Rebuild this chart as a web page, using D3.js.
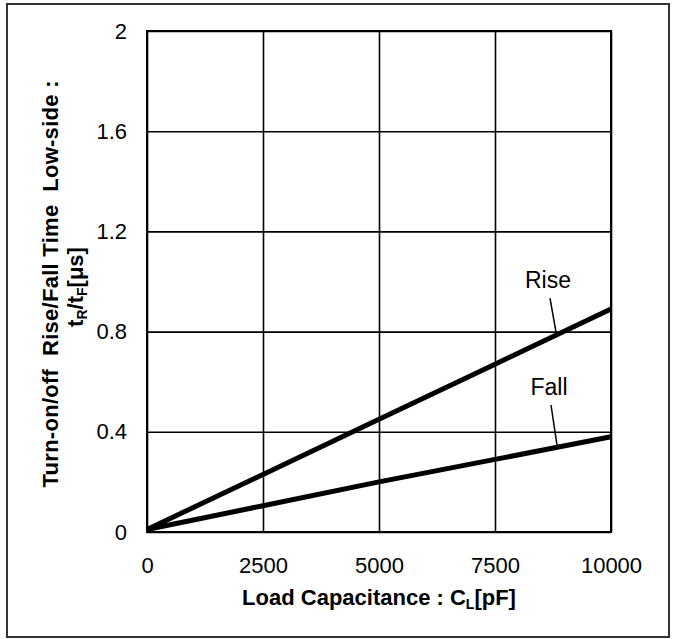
<!DOCTYPE html>
<html>
<head>
<meta charset="utf-8">
<script src="https://cdn.jsdelivr.net/npm/d3@7"></script>
<style>
  body { margin: 0; background: #fff; }
  svg { display: block; font-family: "Liberation Sans", Arial, sans-serif; }
</style>
</head>
<body>
<svg></svg>
<script>
let width = 673;
let height = 639;

// data
let capacitance = [0, 2500, 5000, 7500, 10000];
let riseTime = [0.01, 0.23, 0.45, 0.67, 0.89];
let fallTime = [0.01, 0.105, 0.2, 0.29, 0.38];
let xTicks = [0, 2500, 5000, 7500, 10000];
let yTicks = [0, 0.4, 0.8, 1.2, 1.6, 2];
let labels = [
    {name: "Rise", x: 8642, y: 1.006, from: [8685, 0.934], to: [8815, 0.798]},
    {name: "Fall", x: 8664, y: 0.579, from: [8707, 0.507], to: [8836, 0.347]}
];

let plotLeft = 147, plotRight = 611, plotTop = 31, plotBottom = 532;

let xScale = d3.scaleLinear()
    .domain([0, 10000])
    .range([plotLeft, plotRight]);

let yScale = d3.scaleLinear()
    .domain([0, 2])
    .range([plotBottom, plotTop]);

let svg = d3.select("svg")
    .attr("width", width)
    .attr("height", height);

// outer frame
svg.append("rect")
    .attr("x", 7)
    .attr("y", 4)
    .attr("width", 662)
    .attr("height", 633)
    .attr("fill", "none")
    .attr("stroke", "#333")
    .attr("stroke-width", 2);

let xAxis = d3.axisBottom(xScale)
    .tickValues(xTicks)
    .tickSize(-(plotBottom - plotTop))
    .tickPadding(25)
    .tickSizeOuter(0)
    .tickFormat(d3.format("d"));

let yAxis = d3.axisLeft(yScale)
    .tickValues(yTicks)
    .tickSize(-(plotRight - plotLeft))
    .tickPadding(20)
    .tickSizeOuter(0)
    .tickFormat(d => d);

let gx = svg.append("g")
    .attr("transform", "translate(0," + plotBottom + ")")
    .call(xAxis);

let gy = svg.append("g")
    .attr("transform", "translate(" + plotLeft + ",0)")
    .call(yAxis);

[gx, gy].forEach(g => {
    g.select(".domain").remove();
    g.selectAll(".tick line")
        .attr("stroke", "#000")
        .attr("stroke-width", 1.6);
    g.selectAll(".tick text")
        .attr("fill", "#000")
        .style("font-size", "22px")
        .style("font-family", "Liberation Sans, Arial, sans-serif");
});

// plot border
svg.append("rect")
    .attr("x", plotLeft)
    .attr("y", plotTop)
    .attr("width", plotRight - plotLeft)
    .attr("height", plotBottom - plotTop)
    .attr("fill", "none")
    .attr("stroke", "#000")
    .attr("stroke-width", 2);

let line = d3.line()
    .x((d, i) => xScale(capacitance[i]))
    .y(d => yScale(d));

[riseTime, fallTime].forEach(s => {
    svg.append("path")
        .datum(s)
        .attr("d", line)
        .attr("fill", "none")
        .attr("stroke", "#000")
        .attr("stroke-width", 5);
});

// callouts
labels.forEach(l => {
    svg.append("text")
        .attr("x", xScale(l.x))
        .attr("y", yScale(l.y))
        .attr("dy", "0.36em")
        .style("text-anchor", "middle")
        .style("font-size", "23px")
        .text(l.name);
    svg.append("line")
        .attr("x1", xScale(l.from[0]))
        .attr("y1", yScale(l.from[1]))
        .attr("x2", xScale(l.to[0]))
        .attr("y2", yScale(l.to[1]))
        .attr("stroke", "#000")
        .attr("stroke-width", 1.5);
});

// x axis title
let xt = svg.append("text")
    .attr("x", (plotLeft + plotRight) / 2)
    .attr("y", 605)
    .style("text-anchor", "middle")
    .style("font-size", "22px")
    .style("font-weight", "bold");
xt.append("tspan").text("Load Capacitance : C");
xt.append("tspan").attr("dy", 4).style("font-size", "14px").text("L");
xt.append("tspan").attr("dy", -4).text("[pF]");

// y axis title, two lines
svg.append("text")
    .attr("transform", "translate(58,284) rotate(-90)")
    .attr("textLength", 407)
    .attr("lengthAdjust", "spacing")
    .style("text-anchor", "middle")
    .style("font-size", "22px")
    .style("font-weight", "bold")
    .style("white-space", "pre")
    .text("Turn-on/off  Rise/Fall Time  Low-side :");

let yt = svg.append("text")
    .attr("transform", "translate(83,287) rotate(-90)")
    .style("text-anchor", "middle")
    .style("font-size", "22px")
    .style("font-weight", "bold");
yt.append("tspan").text("t");
yt.append("tspan").attr("dy", 4).style("font-size", "14px").text("R");
yt.append("tspan").attr("dy", -4).text("/t");
yt.append("tspan").attr("dy", 4).style("font-size", "14px").text("F");
yt.append("tspan").attr("dy", -4).text("[μs]");
</script>
</body>
</html>
